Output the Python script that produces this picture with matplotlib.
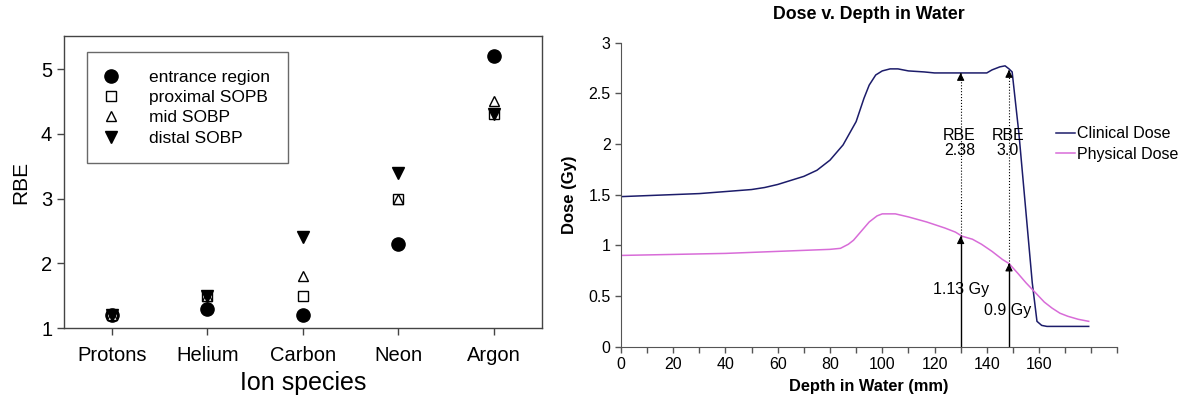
import numpy as np
import matplotlib
matplotlib.use('Agg')
import matplotlib.pyplot as plt

plt.rcParams['font.family'] = ['Liberation Sans', 'DejaVu Sans']

# left panel: RBE by ion species
species = ['Protons', 'Helium', 'Carbon', 'Neon', 'Argon']
rbe_entrance = [1.2, 1.3, 1.2, 2.3, 5.2]
rbe_proximal = [1.2, 1.5, 1.5, 3.0, 4.3]
rbe_mid = [1.2, 1.5, 1.8, 3.0, 4.5]
rbe_distal = [1.2, 1.5, 2.4, 3.4, 4.3]

# right panel: dose vs depth
depth_clin = [0, 10, 20, 30, 40, 50, 55, 60, 65, 70, 75, 80, 85, 90, 93, 95, 97.5,
              100, 103, 106, 110, 116, 120, 130, 140, 142, 145, 147, 148.5, 149.7,
              152.3, 154.8, 157.4, 159.2, 161, 163, 170, 179]
dose_clin = [1.48, 1.49, 1.50, 1.51, 1.53, 1.55, 1.57, 1.60, 1.64, 1.68, 1.74, 1.84,
             1.99, 2.22, 2.45, 2.58, 2.68, 2.72, 2.74, 2.74, 2.72, 2.71, 2.70, 2.70,
             2.70, 2.73, 2.76, 2.77, 2.74, 2.71, 2.10, 1.38, 0.63, 0.25, 0.21, 0.20,
             0.20, 0.20]
depth_phys = [0, 20, 40, 60, 70, 80, 84, 87, 89, 92, 95, 98, 100, 105, 110, 117, 124,
              128, 130.5, 134.5, 138, 142, 146, 148.5, 152, 155, 158.7, 162, 165, 168,
              171, 175, 179]
dose_phys = [0.90, 0.91, 0.92, 0.94, 0.95, 0.96, 0.97, 1.01, 1.05, 1.14, 1.23, 1.29,
             1.31, 1.31, 1.28, 1.23, 1.17, 1.13, 1.09, 1.06, 1.01, 0.94, 0.86, 0.82,
             0.72, 0.63, 0.53, 0.44, 0.38, 0.33, 0.30, 0.27, 0.25]
arrow_depth = [130, 148.5]
arrow_phys = [1.09, 0.82]
arrow_clin = [2.70, 2.73]
rbe_text = ['RBE\n2.38', 'RBE\n3.0']
gy_text = ['1.13 Gy', '0.9 Gy']

fig = plt.figure(figsize=(11.85, 4.05), dpi=100)

ax1 = fig.add_axes([0.054, 0.190, 0.403, 0.721])
x = np.arange(len(species))
ax1.plot(x, rbe_entrance, 'o', color='black', ms=9.5, ls='none', label='entrance region')
ax1.plot(x, rbe_proximal, 's', mfc='white', mec='black', mew=1, ms=6.5, ls='none', label='proximal SOPB')
ax1.plot(x, rbe_mid, '^', mfc='white', mec='black', mew=1, ms=7.5, ls='none', label='mid SOBP')
ax1.plot(x, rbe_distal, 'v', color='black', ms=9, ls='none', label='distal SOBP')
ax1.set_xlim(-0.5, 4.5)
ax1.set_ylim(1, 5.51)
ax1.set_xticks(x)
ax1.set_xticklabels(species, fontsize=14.5)
ax1.set_yticks([1, 2, 3, 4, 5])
ax1.tick_params(axis='y', labelsize=14.5, length=5, width=1, color='#444')
ax1.tick_params(axis='x', length=5, width=1, color='#444', pad=8)
ax1.set_xlabel('Ion species', fontsize=18, labelpad=4)
ax1.set_ylabel('RBE', fontsize=15, labelpad=8)
for s in ax1.spines.values():
    s.set_color('#444')
    s.set_linewidth(1)
leg = ax1.legend(loc='upper left', bbox_to_anchor=(0.048, 0.945), fontsize=12.5,
                 frameon=True, fancybox=False, borderpad=1.0, handlelength=0.8,
                 handletextpad=1.8, labelspacing=0.3, borderaxespad=0)
leg.get_frame().set_edgecolor('#444')
leg.get_frame().set_linewidth(1)

ax2 = fig.add_axes([0.524, 0.144, 0.419, 0.751])
ax2.plot(depth_clin, dose_clin, color='#1c1c6a', lw=1.1, label='Clinical Dose')
ax2.plot(depth_phys, dose_phys, color='#d86cd8', lw=1.1, label='Physical Dose')
for d, p, c in zip(arrow_depth, arrow_phys, arrow_clin):
    ax2.vlines(d, 0, p, color='black', lw=1)
    ax2.vlines(d, p, c, color='black', lw=0.8, linestyles=':')
    for top in (p, c):
        ax2.annotate('', xy=(d, top), xytext=(d, top - 0.02),
                     arrowprops=dict(arrowstyle='-|>', color='black', lw=0.8,
                                     mutation_scale=11, shrinkA=0, shrinkB=0))
for d, t in zip(arrow_depth, rbe_text):
    ax2.text(d - 0.5, 2.01, t, ha='center', va='center', fontsize=11.5, linespacing=1.05)
ax2.text(arrow_depth[0], 0.56, gy_text[0], ha='center', va='center', fontsize=11.5)
ax2.text(arrow_depth[1] - 0.5, 0.36, gy_text[1], ha='center', va='center', fontsize=11.5)

ax2.set_xlim(0, 190)
ax2.set_ylim(0, 3)
ticks = list(range(0, 200, 10))
ax2.set_xticks(ticks)
ax2.set_xticklabels([str(t) if t % 20 == 0 and t <= 160 else '' for t in ticks], fontsize=11.5)
ax2.set_yticks([0, 0.5, 1, 1.5, 2, 2.5, 3])
ax2.set_yticklabels(['0', '0.5', '1', '1.5', '2', '2.5', '3'], fontsize=11.5)
ax2.tick_params(length=4, width=1, color='#555')
ax2.spines['top'].set_visible(False)
ax2.spines['right'].set_visible(False)
for s in ('left', 'bottom'):
    ax2.spines[s].set_color('#555')
ax2.set_xlabel('Depth in Water (mm)', fontsize=11.8, fontweight='bold', labelpad=5)
ax2.set_ylabel('Dose (Gy)', fontsize=12, fontweight='bold', labelpad=8)
ax2.set_title('Dose v. Depth in Water', fontsize=12.8, fontweight='bold', pad=17)
ax2.legend(loc='center left', bbox_to_anchor=(1056 / 1185, 1 - 144 / 405),
           bbox_transform=fig.transFigure, fontsize=11.5,
           frameon=False, handlelength=1.2, handletextpad=0.1, labelspacing=0.35,
           borderpad=0, borderaxespad=0)

fig.savefig('out.png', dpi=100)
